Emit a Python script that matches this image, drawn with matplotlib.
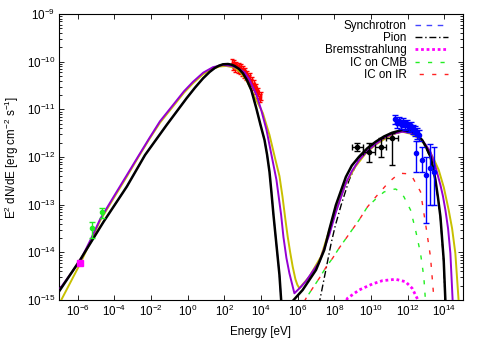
import numpy as np
import matplotlib
matplotlib.use("Agg")
import matplotlib.pyplot as plt

plt.rcParams['font.family'] = ['Liberation Sans', 'DejaVu Sans']
plt.rcParams['mathtext.fontset'] = 'custom'
plt.rcParams['mathtext.rm'] = 'Liberation Sans'
plt.rcParams['mathtext.it'] = 'Liberation Sans:italic'

FS = 8.4

# ---- model curves (log10 E [eV], log10 E^2 dN/dE) ----
black_logE = [-6.98, -5.853, -4.589, -3.318, -2.325, -1.147, -0.061, 0.40, 0.840, 1.20, 1.476, 1.70,
              1.926, 2.198, 2.38, 2.561, 2.79, 3.012, 3.24, 3.468, 3.739, 3.973, 4.19, 4.33, 4.462,
              4.57, 4.679, 4.842, 5.005, 5.097, 5.15,
              np.nan,
              5.65, 5.727, 6.269, 6.997, 7.448, 7.719, 8.083, 8.626, 8.95, 9.348, 9.8, 10.254, 10.7,
              11.155, 11.698, 12.241, 12.5, 12.784, 13.0, 13.240, 13.38, 13.511, 13.65, 13.783,
              13.962, 14.054, 14.08]
black_logF = [-14.80, -14.15, -13.36, -12.62, -11.958, -11.328, -10.768, -10.545, -10.349, -10.215,
              -10.133, -10.085, -10.055, -10.049, -10.062, -10.091, -10.150, -10.244, -10.395, -10.594,
              -10.972, -11.328, -11.643, -11.95, -12.314, -12.75, -13.217, -13.846, -14.475, -15.0,
              -15.3,
              np.nan,
              -15.3, -15.021, -14.790, -14.370, -13.951, -13.531, -13.007, -12.419, -12.18, -11.993,
              -11.815, -11.679, -11.57, -11.490, -11.433, -11.469, -11.535, -11.643, -11.79, -11.993,
              -12.22, -12.482, -12.85, -13.252, -14.16, -15.021, -15.3]

purple_logE = [-6.98, -5.853, -5.3, -4.768, -4.0, -3.318, -2.688, -2.1, -1.510, -0.696, -0.2, 0.298,
               0.85, 1.383, 1.926, 2.399, 2.75, 3.104, 3.376, 3.756, 4.011, 4.299, 4.570, 4.842, 5.097,
               5.222, 5.385, 5.548, 5.819, 6.183, 6.454, 6.796, 7.176, 7.719, 8.083, 8.626, 8.95,
               9.348, 9.8, 10.254, 10.7, 11.155, 11.698, 12.241, 12.5, 12.784, 13.0, 13.240, 13.511,
               13.783, 13.92, 14.054, 14.2, 14.326, 14.451, 14.49]
purple_logF = [-14.77, -14.17, -13.74, -13.30, -12.81, -12.38, -11.98, -11.61, -11.25, -10.86, -10.62,
               -10.42, -10.23, -10.115, -10.07, -10.09, -10.14, -10.225, -10.385, -10.699, -11.014,
               -11.433, -11.958, -12.482, -13.217, -13.678, -14.119, -14.440, -14.859, -14.721,
               -14.601, -14.412, -14.202, -13.636, -13.154, -12.545, -12.30, -12.063, -11.87, -11.727,
               -11.60, -11.517, -11.469, -11.496, -11.555, -11.643, -11.755, -11.895, -12.203,
               -12.587, -12.82, -13.112, -13.5, -14.020, -15.021, -15.3]

yellow_logE = [-6.98, -5.853, -5.3, -4.768, -4.0, -3.318, -2.688, -2.1, -1.510, -0.696, -0.2, 0.298,
               0.85, 1.383, 1.75, 2.111, 2.561, 2.9, 3.196, 3.739, 4.098, 4.462, 4.788, 5.005, 5.17,
               5.346, 5.455, 5.59, 5.727, 5.873, 5.98, 6.090, 6.633, 7.268, 7.898, 8.626, 9.15, 9.711,
               10.25, 10.797, 11.25, 11.698, 12.15, 12.604, 12.9, 13.147, 13.42, 13.690, 13.97,
               14.233, 14.42, 14.597, 14.776, 14.82]
yellow_logF = [-15.063, -14.23, -13.77, -13.33, -12.84, -12.41, -12.00, -11.63, -11.28, -10.89, -10.65,
               -10.45, -10.26, -10.145, -10.10, -10.09, -10.127, -10.23, -10.385, -10.804, -11.077,
               -11.538, -12.063, -12.40, -12.83, -13.363, -13.672, -14.00, -14.301, -14.560, -14.68,
               -14.754, -14.511, -14.091, -13.321, -12.552, -12.20, -11.922, -11.74, -11.608, -11.515,
               -11.469, -11.51, -11.608, -11.715, -11.853, -12.04, -12.273, -12.64, -13.112, -13.5,
               -14.020, -15.021, -15.3]

# synchrotron component (follows the low-energy hump)
sync_logE = black_logE[:31]
sync_logF = black_logF[:31]

pion_logE = [7.149, 7.230, 7.393, 7.610, 7.827, 8.045, 8.370, 8.805, 9.348, 9.8, 10.254, 10.7, 11.155,
             11.698, 12.241, 12.5, 12.784, 13.0, 13.240, 13.38, 13.511, 13.65, 13.783, 13.962, 14.043,
             14.07]
pion_logF = [-15.105, -14.958, -14.643, -14.223, -13.804, -13.447, -13.007, -12.482, -12.021, -11.835,
             -11.706, -11.59, -11.517, -11.465, -11.496, -11.56, -11.664, -11.81, -12.021, -12.23,
             -12.503, -12.87, -13.28, -14.2, -15.021, -15.3]

brems_logE = [8.533, 8.713, 9.348, 10.070, 10.612, 11.340, 11.883, 12.241, 12.513, 12.605]
brems_logF = [-15.105, -14.964, -14.790, -14.664, -14.595, -14.565, -14.616, -14.754, -14.964, -15.041]

iccmb_logE = [6.253, 6.454, 6.812, 7.176, 7.540, 7.898, 8.262, 8.805, 9.348, 9.798, 10.254, 10.705,
              11.05, 11.340, 11.57, 11.790, 12.154, 12.426, 12.697, 12.876, 12.969, 13.0]
iccmb_logF = [-15.105, -14.964, -14.754, -14.544, -14.314, -14.125, -13.909, -13.615, -13.321, -13.049,
              -12.881, -12.734, -12.69, -12.671, -12.73, -12.833, -13.112, -13.531, -14.020, -14.511,
              -15.021, -15.2]

icir_logE = [6.253, 6.454, 6.812, 7.176, 7.540, 7.898, 8.262, 8.805, 9.348, 9.798, 10.254, 10.976,
             11.3, 11.611, 11.95, 12.241, 12.697, 12.969, 13.240, 13.419, 13.528]
icir_logF = [-15.105, -14.964, -14.754, -14.544, -14.314, -14.125, -13.909, -13.615, -13.321, -13.049,
             -12.839, -12.524, -12.42, -12.342, -12.35, -12.413, -12.728, -13.391, -14.091, -14.930,
             -15.21]

# ---- data points ----
# X-ray (red)
xray_logE = [2.42, 2.48, 2.55, 2.60, 2.66, 2.72, 2.78, 2.84, 2.90, 2.96, 3.02, 3.08, 3.14, 3.20,
             3.26, 3.32, 3.38, 3.44, 3.50, 3.56, 3.62, 3.68, 3.74, 3.80, 3.86, 3.92, 3.98]
xray_logF = [-10.02, -10.10, -10.05, -10.13, -10.08, -10.15, -10.10, -10.18, -10.13, -10.22, -10.17,
             -10.26, -10.21, -10.31, -10.27, -10.37, -10.32, -10.44, -10.40, -10.52, -10.47, -10.60,
             -10.55, -10.68, -10.63, -10.76, -10.72]

# radio (green)
radio_E = [6.05e-6, 2.11e-5]
radio_F = [3.2e-14, 7.13e-14]
radio_lo = [1.97e-14, 5.33e-14]
radio_hi = [4.4e-14, 8.4e-14]

# magenta point
mag_E = [1.4e-6]
mag_F = [5.9e-15]

# Fermi (black)
fermi_E = [1.8e9, 7.76e9, 3.36e10, 1.43e11]
fermi_F = [1.64e-12, 1.29e-12, 1.64e-12, 2.47e-12]
fermi_Elo = [8.9e8, 3.67e9, 1.64e10, 6.5e10]
fermi_Ehi = [3.67e9, 1.64e10, 6.5e10, 2.8e11]
fermi_Flo = [1.35e-12, 7.98e-13, 1.0e-12, 6.8e-13]
fermi_Fhi = [2.0e-12, 1.97e-12, 2.5e-12, 3.19e-12]

# HESS (blue)
hess_E = [2.0e11, 2.57e11, 3.31e11, 4.27e11, 5.5e11, 7.08e11, 8.9e11, 1.15e12, 1.48e12, 1.9e12,
          2.45e12, 3.16e12, 4.07e12, 2.75e12, 5.9e12, 9.6e12, 1.58e13, 2.6e13]
hess_F = [6.27e-12, 5.16e-12, 5.69e-12, 4.92e-12, 5.42e-12, 4.69e-12, 4.92e-12, 4.26e-12, 4.47e-12,
          3.86e-12, 3.51e-12, 3.18e-12, 2.89e-12, 1.21e-12, 8.65e-13, 4.2e-13, 5.9e-13, 4.85e-13]
hess_lo = [5.0e-12, 4.1e-12, 4.6e-12, 3.9e-12, 4.3e-12, 3.7e-12, 3.9e-12, 3.4e-12, 3.5e-12,
           3.0e-12, 2.7e-12, 2.4e-12, 2.2e-12, 4.85e-13, 4.85e-13, 4.13e-14, 9.8e-14, 9.8e-14]
hess_hi = [7.6e-12, 6.3e-12, 6.9e-12, 6.0e-12, 6.6e-12, 5.7e-12, 6.0e-12, 5.2e-12, 5.5e-12,
           4.8e-12, 4.4e-12, 4.0e-12, 3.7e-12, 2.17e-12, 1.62e-12, 1.0e-12, 1.87e-12, 1.62e-12]

xticks_exp = [-6, -4, -2, 0, 2, 4, 6, 8, 10, 12, 14]
yticks_exp = [-15, -14, -13, -12, -11, -10, -9]


def p(a):
    return 10.0 ** np.asarray(a, dtype=float)


fig = plt.figure(figsize=(4.85, 3.39), dpi=100)
ax = fig.add_axes([0.1223, 0.1150, 0.8318, 0.8437])
ax.set_xscale('log')
ax.set_yscale('log')
ax.set_xlim(1e-7, 1e15)
ax.set_ylim(1e-15, 1e-9)

# X-ray data (under curves)
xe = p(xray_logE)
xf = p(xray_logF)
ax.errorbar(xe, xf, xerr=[xe * (1 - 10 ** -0.03), xe * (10 ** 0.03 - 1)],
            yerr=[xf * (1 - 10 ** -0.08), xf * (10 ** 0.08 - 1)],
            fmt='none', ecolor='#ff0000', elinewidth=1.0, capsize=1.5, zorder=1)

# components
ax.plot(p(sync_logE), p(sync_logF), color='#4444ff', lw=1.0, ls=(0, (4, 4)), zorder=2,
        label='Synchrotron')
ax.plot(p(pion_logE), p(pion_logF), color='black', lw=1.0, ls=(0, (5, 2, 1, 2)), zorder=2,
        label='Pion')
ax.plot(p(brems_logE), p(brems_logF), color='#ff00ff', lw=2.0, ls=(0, (1, 1)), zorder=2,
        label='Bremsstrahlung')
ax.plot(p(iccmb_logE), p(iccmb_logF), color='#22ee22', lw=1.0, ls=(0, (3, 6)), zorder=2,
        label='IC on CMB')
ax.plot(p(icir_logE), p(icir_logF), color='#ff2222', lw=1.0, ls=(6, (3, 6)), zorder=2,
        label='IC on IR')

# total models
ax.plot(p(yellow_logE), p(yellow_logF), color='#c8c000', lw=1.4, zorder=3)
ax.plot(p(purple_logE), p(purple_logF), color='#9400d3', lw=1.4, zorder=3)
ax.plot(p(black_logE), p(black_logF), color='black', lw=1.8, zorder=4)

# data points on top
ax.errorbar(radio_E, radio_F,
            yerr=[np.array(radio_F) - np.array(radio_lo), np.array(radio_hi) - np.array(radio_F)],
            fmt='o', color='#22ee22', ms=3, elinewidth=1.0, capsize=2, zorder=5)
ax.plot(mag_E, mag_F, 's', color='#ff00ff', ms=4, zorder=5)
ax.errorbar(fermi_E, fermi_F,
            xerr=[np.array(fermi_E) - np.array(fermi_Elo), np.array(fermi_Ehi) - np.array(fermi_E)],
            yerr=[np.array(fermi_F) - np.array(fermi_Flo), np.array(fermi_Fhi) - np.array(fermi_F)],
            fmt='o', color='black', ms=3, elinewidth=1.0, capsize=2, zorder=5)
ax.errorbar(hess_E, hess_F,
            yerr=[np.array(hess_F) - np.array(hess_lo), np.array(hess_hi) - np.array(hess_F)],
            fmt='o', color='#0000ff', ms=3, elinewidth=1.0, capsize=2, zorder=5)

# axes styling (gnuplot look)
ax.set_xticks([10.0 ** e for e in xticks_exp])
ax.set_xticklabels([r'$10^{%d}$' % e for e in xticks_exp])
ax.xaxis.set_minor_locator(matplotlib.ticker.NullLocator())
ax.set_yticks([10.0 ** e for e in yticks_exp])
ax.set_yticklabels([r'$10^{%d}$' % e for e in yticks_exp])
minor_y = [m * 10.0 ** e for e in yticks_exp[:-1] for m in range(2, 10)]
ax.set_yticks(minor_y, minor=True)
ax.yaxis.set_minor_formatter(matplotlib.ticker.NullFormatter())
ax.tick_params(which='both', direction='in', top=True, right=True, labelsize=FS, width=0.6)
ax.tick_params(which='major', length=3.5, pad=3)
ax.tick_params(which='minor', length=2)
for s in ax.spines.values():
    s.set_linewidth(0.8)

fig.text(261 / 485, 1 - 331.5 / 339, 'Energy [eV]', ha='center', va='center', fontsize=FS)
fig.text(12 / 485, 1 - 157 / 339, r'E$^2$ dN/dE [erg cm$^{-2}$ s$^{-1}$]', rotation=90,
         ha='center', va='center', fontsize=FS)

leg = ax.legend(loc='upper right', bbox_to_anchor=(448 / 485, 1 - 20 / 339),
                bbox_transform=fig.transFigure, frameon=False, markerfirst=False,
                fontsize=FS, handlelength=2.85, handletextpad=0.7, labelspacing=0.02,
                borderpad=0, borderaxespad=0)

fig.savefig('out.png', dpi=100)
